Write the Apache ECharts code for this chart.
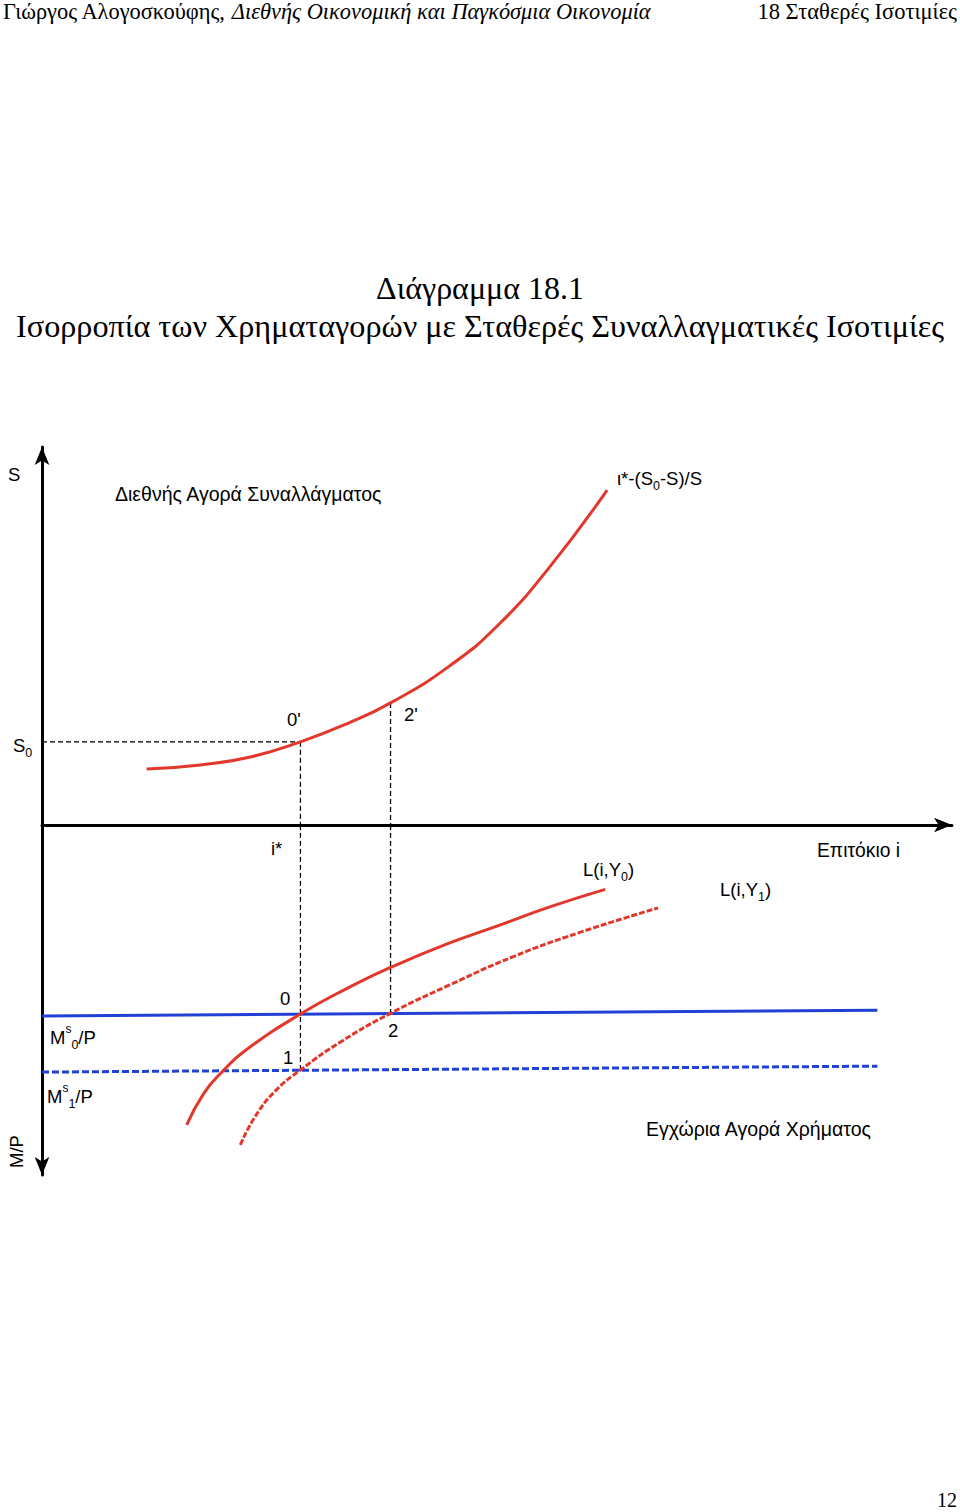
<!DOCTYPE html>
<html>
<head>
<meta charset="utf-8">
<script src="https://cdn.jsdelivr.net/npm/echarts@6/dist/echarts.min.js"></script>
<style>
html,body{margin:0;padding:0;background:#fff;}
#chart{width:960px;height:1512px;}
</style>
</head>
<body>
<div id="chart"></div>
<script>
// ---- data (interest rate i on 0..100, S on 0..100 upward, M/P on 0..100 downward) ----
var iStar = 28.4;            // i*
var i2 = 38.3;               // point 2 / 2'
var S0 = 22.0;               // fixed exchange rate
var S2 = 32.3;               // S at point 2'
// exchange market curve i*-(S0-S)/S
var fxCurveI = [11.5, 17.4, 22.9, 28.4, 33.8, 38.3, 44.8, 50.3, 55.8, 62.1];
var fxCurveS = [14.8, 15.9, 18.0, 22.0, 27.1, 32.3, 42.1, 53.3, 68.3, 88.6];
// money demand L(i,Y0)
var l0I = [15.9, 17.8, 19.8, 22.3, 28.4, 33.8, 38.3, 44.8, 50.3, 55.8, 61.9];
var l0M = [85.7, 76.6, 70.5, 64.5, 54.0, 46.3, 40.7, 33.7, 28.6, 23.4, 18.4];
// money demand L(i,Y1)
var l1I = [21.8, 23.4, 25.6, 28.4, 32.8, 38.3, 44.8, 51.8, 59.1, 67.7];
var l1M = [91.4, 83.4, 76.1, 70.0, 62.0, 53.8, 45.7, 37.6, 30.7, 23.7];
// money supply lines
var msI = [0, 91.8];
var ms0M = [54.6, 52.9];
var ms1M = [70.6, 68.9];
var M1atIStar = 70.0;
var M0atI2 = 53.8;

function zip(a, b) { return a.map(function (v, k) { return [v, b[k]]; }); }

var RED = '#e2382c', BLUE = '#2141d6', BLACK = '#000';
var SANS = '"Liberation Sans", Arial, sans-serif';
var SERIF = '"Liberation Serif", "Times New Roman", serif';

var chart = echarts.init(document.getElementById('chart'), null, { renderer: 'svg' });

function dashLine(xAxisIndex, data) {
  return {
    type: 'line', xAxisIndex: xAxisIndex, yAxisIndex: xAxisIndex, data: data,
    symbol: 'none', silent: true, z: 1,
    lineStyle: { color: BLACK, width: 1.3, type: [5, 3] }
  };
}

var subRich = {
  n: { fontFamily: SANS, fontSize: 18.5, lineHeight: 28, color: '#000' },
  s: { fontFamily: SANS, fontSize: 12.5, lineHeight: 12, verticalAlign: 'bottom', color: '#000' },
  u: { fontFamily: SANS, fontSize: 12, lineHeight: 14, verticalAlign: 'top', color: '#000' }
};

function txt(x, y, text, size, opts) {
  opts = opts || {};
  return {
    type: 'text', x: x, y: y, rotation: opts.rotation || 0, z: 100,
    style: {
      text: text, fill: '#000',
      font: (opts.italic ? 'italic ' : '') + size + 'px ' + (opts.family || SANS),
      align: opts.align || 'left', verticalAlign: 'middle',
      rich: opts.rich
    }
  };
}

function curve(idx, data, dashed) {
  return {
    type: 'line', xAxisIndex: idx, yAxisIndex: idx, data: data, smooth: 0.5,
    symbol: 'none', z: 3, lineStyle: { color: RED, width: 3, type: dashed ? [6, 2] : 'solid' }
  };
}

var option = {
  backgroundColor: '#fff',
  animation: false,
  grid: [
    { left: 42, width: 910, top: 447, height: 378 },
    { left: 42, width: 910, top: 825, height: 350 }
  ],
  xAxis: [
    { type: 'value', gridIndex: 0, min: 0, max: 100,
      axisLine: { show: true, onZero: false, symbol: ['none', 'arrow'], symbolSize: [11, 18],
        lineStyle: { color: BLACK, width: 3 } },
      axisTick: { show: false }, axisLabel: { show: false }, splitLine: { show: false } },
    { type: 'value', gridIndex: 1, min: 0, max: 100, position: 'top',
      axisLine: { show: false }, axisTick: { show: false }, axisLabel: { show: false }, splitLine: { show: false } }
  ],
  yAxis: [
    { type: 'value', gridIndex: 0, min: 0, max: 100,
      axisLine: { show: true, onZero: false, symbol: ['none', 'arrow'], symbolSize: [11, 18],
        lineStyle: { color: BLACK, width: 3 } },
      axisTick: { show: false }, axisLabel: { show: false }, splitLine: { show: false } },
    { type: 'value', gridIndex: 1, min: 0, max: 100, inverse: true,
      axisLine: { show: true, onZero: false, symbol: ['arrow', 'none'], symbolSize: [11, 18],
        lineStyle: { color: BLACK, width: 3 } },
      axisTick: { show: false }, axisLabel: { show: false }, splitLine: { show: false } }
  ],
  series: [
    dashLine(0, [[0, S0], [iStar, S0]]),
    dashLine(0, [[iStar, S0], [iStar, 0]]),
    dashLine(0, [[i2, S2], [i2, 0]]),
    dashLine(1, [[iStar, 0], [iStar, M1atIStar]]),
    dashLine(1, [[i2, 0], [i2, M0atI2]]),
    curve(0, zip(fxCurveI, fxCurveS), false),
    { type: 'line', xAxisIndex: 1, yAxisIndex: 1, data: zip(msI, ms0M),
      symbol: 'none', z: 2, lineStyle: { color: BLUE, width: 3 } },
    { type: 'line', xAxisIndex: 1, yAxisIndex: 1, data: zip(msI, ms1M),
      symbol: 'none', z: 2, lineStyle: { color: BLUE, width: 3, type: [7, 3] } },
    curve(1, zip(l0I, l0M), false),
    curve(1, zip(l1I, l1M), true)
  ],
  graphic: [
    // header
    txt(3, 11, '{r|Γιώργος Αλογοσκούφης, }{i|Διεθνής Οικονομική και Παγκόσμια Οικονομία}', 22.4, {
      family: SERIF,
      rich: {
        r: { fontFamily: SERIF, fontSize: 22.4, color: '#000' },
        i: { fontFamily: SERIF, fontSize: 22.4, fontStyle: 'italic', color: '#000' }
      }
    }),
    txt(957, 11, '18 Σταθερές Ισοτιμίες', 22.5, { family: SERIF, align: 'right' }),
    // title
    txt(480, 288, 'Διάγραμμα 18.1', 32, { family: SERIF, align: 'center' }),
    txt(480, 326, 'Ισορροπία των Χρηματαγορών με Σταθερές Συναλλαγματικές Ισοτιμίες', 32.2, { family: SERIF, align: 'center' }),
    // upper panel labels
    txt(8, 474, 'S', 18.5),
    txt(115, 494, 'Διεθνής Αγορά Συναλλάγματος', 19.5),
    txt(617, 478, '{n|ι*-(S}{s|0}{n|-S)/S}', 18.5, { rich: subRich }),
    txt(287, 719, "0'", 18.5),
    txt(404, 714, "2'", 18.5),
    txt(13, 745, '{n|S}{s|0}', 18.5, { rich: subRich }),
    // lower panel labels
    txt(271, 848, 'i*', 18.5),
    txt(583, 869, '{n|L(i,Y}{s|0}{n|)}', 18.5, { rich: subRich }),
    txt(720, 889, '{n|L(i,Y}{s|1}{n|)}', 18.5, { rich: subRich }),
    txt(817, 850, 'Επιτόκιο i', 19.3),
    txt(280, 998, '0', 18.5),
    txt(388, 1030, '2', 18.5),
    txt(283, 1057, '1', 18.5),
    txt(50, 1037, '{n|M}{u|s}{s|0}{n|/P}', 18.5, { rich: subRich }),
    txt(47, 1096, '{n|M}{u|s}{s|1}{n|/P}', 18.5, { rich: subRich }),
    txt(16, 1168, 'M/P', 18.5, { rotation: Math.PI / 2 }),
    txt(646, 1129, 'Εγχώρια Αγορά Χρήματος', 19.5),
    // page number
    txt(957, 1500, '12', 20, { family: SERIF, align: 'right' })
  ]
};
chart.setOption(option);
</script>
</body>
</html>
